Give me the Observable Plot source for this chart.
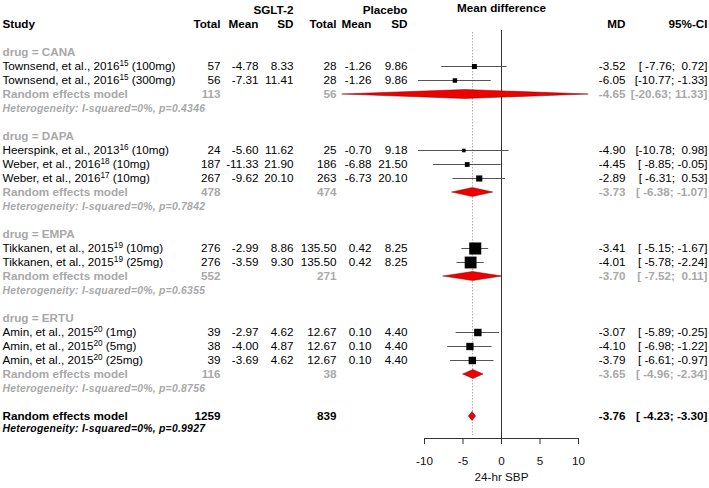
<!DOCTYPE html>
<html>
<head>
<meta charset="utf-8">
<script src="https://cdn.jsdelivr.net/npm/d3@7"></script>
<script src="https://cdn.jsdelivr.net/npm/@observablehq/plot@0.6"></script>
<style>
  html, body { margin: 0; padding: 0; background: #fff; }
  #chart { width: 709px; height: 488px; }
  svg text { white-space: pre; }
</style>
</head>
<body>
<div id="chart"></div>
<script>
// ---------------- data ----------------
const drugs = ["CANA", "DAPA", "EMPA", "ERTU"];
const studyDrug = ["CANA", "CANA", "DAPA", "DAPA", "DAPA", "EMPA", "EMPA", "ERTU", "ERTU", "ERTU"];
const studyLabels = [
  "Townsend, et al., 2016¹⁵ (100mg)",
  "Townsend, et al., 2016¹⁵ (300mg)",
  "Heerspink, et al., 2013¹⁶ (10mg)",
  "Weber, et al., 2016¹⁸ (10mg)",
  "Weber, et al., 2016¹⁷ (10mg)",
  "Tikkanen, et al., 2015¹⁹ (10mg)",
  "Tikkanen, et al., 2015¹⁹ (25mg)",
  "Amin, et al., 2015²⁰ (1mg)",
  "Amin, et al., 2015²⁰ (5mg)",
  "Amin, et al., 2015²⁰ (25mg)"
];
const eTotal = [57, 56, 24, 187, 267, 276, 276, 39, 38, 39];
const eMean  = [-4.78, -7.31, -5.60, -11.33, -9.62, -2.99, -3.59, -2.97, -4.00, -3.69];
const eSD    = [8.33, 11.41, 11.62, 21.90, 20.10, 8.86, 9.30, 4.62, 4.87, 4.62];
const cTotal = [28, 28, 25, 186, 263, 135.50, 135.50, 12.67, 12.67, 12.67];
const cMean  = [-1.26, -1.26, -0.70, -6.88, -6.73, 0.42, 0.42, 0.10, 0.10, 0.10];
const cSD    = [9.86, 9.86, 9.18, 21.50, 20.10, 8.25, 8.25, 4.40, 4.40, 4.40];
const md     = [-3.52, -6.05, -4.90, -4.45, -2.89, -3.41, -4.01, -3.07, -4.10, -3.79];
const ciLow  = [-7.76, -10.77, -10.78, -8.85, -6.31, -5.15, -5.78, -5.89, -6.98, -6.61];
const ciHigh = [0.72, -1.33, 0.98, -0.05, 0.53, -1.67, -2.24, -0.25, -1.22, -0.97];

const subETotal = [113, 478, 552, 116];
const subCTotal = [56, 474, 271, 38];
const subMD     = [-4.65, -3.73, -3.70, -3.65];
const subLow    = [-20.63, -6.38, -7.52, -4.96];
const subHigh   = [11.33, -1.07, 0.11, -2.34];
const subI2     = [0, 0, 0, 0];
const subP      = ["0.4346", "0.7842", "0.6355", "0.8756"];

const overallETotal = 1259;
const overallCTotal = 839;
const overallMD = -3.76;
const overallLow = -4.23;
const overallHigh = -3.30;
const overallI2 = 0;
const overallP = "0.9927";

const headerLabels = ["Study", "Total", "Mean", "SD", "Total", "Mean", "SD", "MD", "95%-CI"];
const groupLabelE = "SGLT-2";
const groupLabelC = "Placebo";
const plotTitle = "Mean difference";
const xLabel = "24-hr SBP";
const xTicks = [-10, -5, 0, 5, 10];

// ---------------- layout ----------------
const W = 709, H = 488, ML = 424, MR = 131, MT = 30, MB = 50;
const colRight = {study: 2, eTotal: 220, eMean: 258, eSD: 293, cTotal: 336, cMean: 371, cSD: 407, md: 625, ci: 707};
const headerCols = ["study", "eTotal", "eMean", "eSD", "cTotal", "cMean", "cSD", "md", "ci"];
const FS = 11.7, FS_HET = 10.4;
const GRAY = "#a8a8a8";
const FONT = "'Liberation Sans', Arial, Helvetica, sans-serif";

const fmt2 = (v) => v.toFixed(2);
const fmtN = (v) => Number.isInteger(v) ? String(v) : v.toFixed(2);
const fmtCI = (l, h) => "[" + l.toFixed(2).padStart(6) + ";" + h.toFixed(2).padStart(6) + "]";
const weight = (l, h) => 1 / Math.pow((h - l) / (2 * 1.959964), 2);

// ---------------- build rows ----------------
const groupRows = [], studyRows = [], subRows = [], hetRows = [];
let r = 2;
drugs.forEach((d, g) => {
  groupRows.push({row: r++, label: "drug = " + d});
  studyLabels.forEach((s, i) => {
    if (studyDrug[i] !== d) return;
    studyRows.push({
      row: r++, label: s,
      eTotal: fmtN(eTotal[i]), eMean: fmt2(eMean[i]), eSD: fmt2(eSD[i]),
      cTotal: fmtN(cTotal[i]), cMean: fmt2(cMean[i]), cSD: fmt2(cSD[i]),
      mdText: fmt2(md[i]), ciText: fmtCI(ciLow[i], ciHigh[i]),
      md: md[i], low: ciLow[i], high: ciHigh[i], w: weight(ciLow[i], ciHigh[i])
    });
  });
  subRows.push({
    row: r++, label: "Random effects model",
    eTotal: fmtN(subETotal[g]), cTotal: fmtN(subCTotal[g]),
    mdText: fmt2(subMD[g]), ciText: fmtCI(subLow[g], subHigh[g]),
    md: subMD[g], low: subLow[g], high: subHigh[g]
  });
  hetRows.push({row: r++, label: `Heterogeneity: I-squared=${subI2[g]}%, p=${subP[g]}`});
  r++;
});
const overallRow = {
  row: r, label: "Random effects model",
  eTotal: fmtN(overallETotal), cTotal: fmtN(overallCTotal),
  mdText: fmt2(overallMD), ciText: fmtCI(overallLow, overallHigh),
  md: overallMD, low: overallLow, high: overallHigh
};
const overallHet = {row: r + 1, label: `Heterogeneity: I-squared=${overallI2}%, p=${overallP}`};

const diamondHalf = 0.32;
const diamonds = [...subRows, overallRow].flatMap((d, k) => [
  {id: k, x: d.low, y1: d.row, y2: d.row},
  {id: k, x: d.md, y1: d.row - diamondHalf, y2: d.row + diamondHalf},
  {id: k, x: d.high, y1: d.row, y2: d.row}
]);

const headerRow = headerLabels.map((t, i) => ({row: 0, label: t, col: headerCols[i]}));

function col(data, field, key, opts = {}) {
  return Plot.text(data, {
    y: "row", text: field, frameAnchor: "left", dx: colRight[key] - ML,
    textAnchor: key === "study" ? "start" : "end", fontSize: FS, ...opts
  });
}

const marks = [
  // forest
  Plot.ruleX([overallMD], {stroke: "#b0a8a8", strokeDasharray: "1.5,1.5", insetTop: 2, insetBottom: 3}),
  Plot.ruleX([0], {stroke: "#333", strokeWidth: 1}),
  Plot.ruleY(studyRows, {y: "row", x1: "low", x2: "high", stroke: "#555", strokeWidth: 1}),
  Plot.dot(studyRows, {x: "md", y: "row", r: "w", symbol: "square", fill: "black", stroke: null}),
  Plot.area(diamonds, {x1: "x", y1: "y1", y2: "y2", z: "id", fill: "#ee0000", stroke: "#700", strokeWidth: 0.5}),
  Plot.frame({anchor: "bottom", stroke: "#333"}),
  Plot.axisX({ticks: xTicks, tickSize: 6, tickPadding: 12, tickFormat: (d) => String(d), fontSize: FS, label: null, stroke: "#333", fill: "#111"}),
  Plot.text([xLabel], {frameAnchor: "bottom", dy: 42, fontSize: FS, fill: "#111"}),

  // headers
  Plot.text([groupLabelE], {y: () => -1, frameAnchor: "left", dx: colRight.eSD - ML, textAnchor: "end", fontSize: FS, fontWeight: "bold"}),
  Plot.text([groupLabelC], {y: () => -1, frameAnchor: "left", dx: colRight.cSD - ML, textAnchor: "end", fontSize: FS, fontWeight: "bold"}),
  Plot.text([plotTitle], {y: () => -1, frameAnchor: "middle", dy: -2, fontSize: FS, fontWeight: "bold"}),
  ...headerCols.map((c) => col(headerRow.filter((d) => d.col === c), "label", c, {fontWeight: "bold"})),

  // group labels
  col(groupRows, "label", "study", {fill: GRAY, fontWeight: "bold"}),

  // studies
  col(studyRows, "label", "study"),
  col(studyRows, "eTotal", "eTotal"),
  col(studyRows, "eMean", "eMean"),
  col(studyRows, "eSD", "eSD"),
  col(studyRows, "cTotal", "cTotal"),
  col(studyRows, "cMean", "cMean"),
  col(studyRows, "cSD", "cSD"),
  col(studyRows, "mdText", "md"),
  col(studyRows, "ciText", "ci"),

  // subgroup models
  col(subRows, "label", "study", {fill: GRAY, fontWeight: "bold"}),
  col(subRows, "eTotal", "eTotal", {fill: GRAY, fontWeight: "bold"}),
  col(subRows, "cTotal", "cTotal", {fill: GRAY, fontWeight: "bold"}),
  col(subRows, "mdText", "md", {fill: GRAY, fontWeight: "bold"}),
  col(subRows, "ciText", "ci", {fill: GRAY, fontWeight: "bold"}),
  col(hetRows, "label", "study", {fill: GRAY, fontWeight: "bold", fontStyle: "italic", fontSize: FS_HET}),

  // overall
  col([overallRow], "label", "study", {fontWeight: "bold"}),
  col([overallRow], "eTotal", "eTotal", {fontWeight: "bold"}),
  col([overallRow], "cTotal", "cTotal", {fontWeight: "bold"}),
  col([overallRow], "mdText", "md", {fontWeight: "bold"}),
  col([overallRow], "ciText", "ci", {fontWeight: "bold"}),
  col([overallHet], "label", "study", {fontWeight: "bold", fontStyle: "italic", fontSize: FS_HET, dy: -2})
];

const chart = Plot.plot({
  width: W, height: H,
  marginLeft: ML, marginRight: MR, marginTop: MT, marginBottom: MB,
  style: {fontFamily: FONT, fontSize: FS + "px", color: "#000", background: "#fff"},
  x: {domain: [-10, 10]},
  y: {domain: [-1, 29], range: [10, 430], axis: null},
  r: {type: "sqrt", domain: [0, d3.max(studyRows, (d) => d.w)], range: [0, 6.8]},
  marks
});

// render reference numbers as real superscripts, and widen heterogeneity lines
const supMap = {"⁰": "0", "¹": "1", "²": "2", "³": "3", "⁴": "4", "⁵": "5", "⁶": "6", "⁷": "7", "⁸": "8", "⁹": "9"};
const supRe = /[⁰¹²³⁴⁵⁶⁷⁸⁹]+/;
const NS = "http://www.w3.org/2000/svg";
chart.querySelectorAll("text").forEach((t) => {
  const s = t.textContent;
  if (s.startsWith("Heterogeneity")) t.setAttribute("letter-spacing", "0.25");
  const m = s.match(supRe);
  if (!m) return;
  const before = s.slice(0, m.index);
  const sup = [...m[0]].map((c) => supMap[c]).join("");
  const after = s.slice(m.index + m[0].length);
  t.textContent = "";
  const a = document.createElementNS(NS, "tspan"); a.textContent = before; t.appendChild(a);
  const b = document.createElementNS(NS, "tspan"); b.textContent = sup;
  b.setAttribute("font-size", "8.2"); b.setAttribute("dy", "-4"); t.appendChild(b);
  const c = document.createElementNS(NS, "tspan"); c.textContent = after; c.setAttribute("dy", "4"); t.appendChild(c);
});
document.getElementById("chart").appendChild(chart);
</script>
</body>
</html>
